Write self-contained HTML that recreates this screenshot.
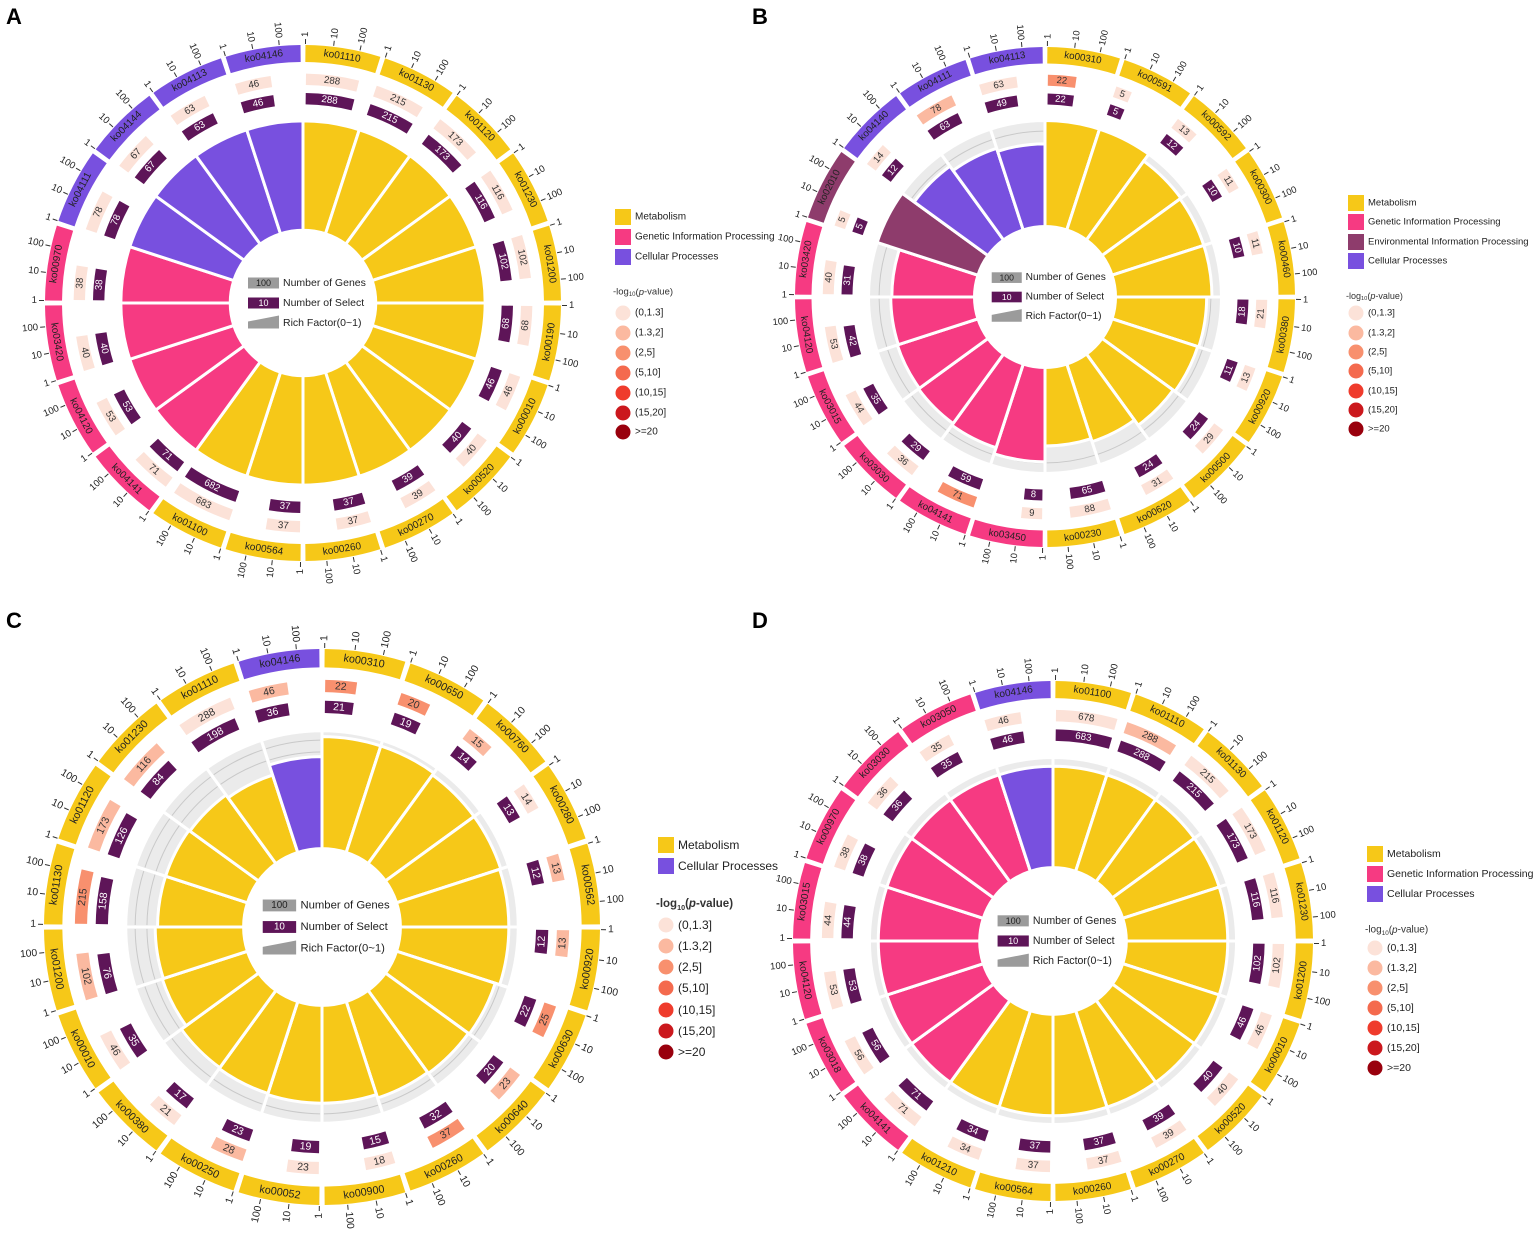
<!DOCTYPE html>
<html><head><meta charset="utf-8"><style>
html,body{margin:0;padding:0;background:#fff;}
svg{display:block;font-family:"Liberation Sans",Arial,sans-serif;}
</style></head><body>
<svg id="fig" width="1535" height="1234" viewBox="0 0 1535 1234">
<text x="6" y="24" font-size="22" font-weight="bold">A</text>
<text x="752" y="24" font-size="22" font-weight="bold">B</text>
<text x="6" y="628" font-size="22" font-weight="bold">C</text>
<text x="752" y="628" font-size="22" font-weight="bold">D</text>
</svg>
<script>
// ---- Panel A data ----
const catsA = ["ko01110","ko01130","ko01120","ko01230","ko01200","ko00190","ko00010","ko00520","ko00270","ko00260","ko00564","ko01100","ko04141","ko04120","ko03420","ko00970","ko04111","ko04144","ko04113","ko04146"];
const classA = ["M","M","M","M","M","M","M","M","M","M","M","M","G","G","G","G","C","C","C","C"];
const genesA = [288,215,173,116,102,68,46,40,39,37,37,683,71,53,40,38,78,67,63,46];
const selectA = [288,215,173,116,102,68,46,40,39,37,37,682,71,53,40,38,78,67,63,46];
const pclsA = [0,0,0,0,0,0,0,0,0,0,0,0,0,0,0,0,0,0,0,0];
const richA = [1,1,1,1,1,1,1,1,1,1,1,1,1,1,1,1,1,1,1,1];
// ---- Panel B data ----
const catsB = ["ko00310","ko00591","ko00592","ko00300","ko00460","ko00380","ko00920","ko00500","ko00620","ko00230","ko03450","ko04141","ko03030","ko03015","ko04120","ko03420","ko02010","ko04140","ko04111","ko04113"];
const classB = ["M","M","M","M","M","M","M","M","M","M","G","G","G","G","G","G","E","C","C","C"];
const genesB = [22,5,13,11,11,21,13,29,31,88,9,71,36,44,53,40,5,14,78,63];
const selectB = [22,5,12,10,10,18,11,24,24,65,8,59,29,35,42,31,5,12,63,49];
const pclsB = [2,0,0,0,0,0,0,0,0,0,0,2,0,0,0,0,0,0,1,0];
const richB = [1,1,0.92,0.91,0.91,0.86,0.85,0.83,0.77,0.74,0.89,0.83,0.81,0.8,0.79,0.78,1,0.86,0.81,0.78];
// ---- Panel C data ----
const catsC = ["ko00310","ko00650","ko00760","ko00280","ko00562","ko00920","ko00630","ko00640","ko00260","ko00900","ko00052","ko00250","ko00380","ko00010","ko01200","ko01130","ko01120","ko01230","ko01110","ko04146"];
const classC = ["M","M","M","M","M","M","M","M","M","M","M","M","M","M","M","M","M","M","M","C"];
const genesC = [22,20,15,14,13,13,25,23,37,18,23,28,21,46,102,215,173,116,288,46];
const selectC = [21,19,14,13,12,12,22,20,32,15,19,23,17,35,76,158,126,84,198,36];
const pclsC = [2,2,1,0,1,1,2,1,2,0,0,1,0,0,1,2,1,1,0,1];
const richC = [0.95,0.95,0.93,0.93,0.92,0.92,0.88,0.87,0.86,0.83,0.83,0.82,0.81,0.76,0.75,0.73,0.73,0.72,0.69,0.78];
// ---- Panel D data ----
const catsD = ["ko01100","ko01110","ko01130","ko01120","ko01230","ko01200","ko00010","ko00520","ko00270","ko00260","ko00564","ko01210","ko04141","ko03018","ko04120","ko03015","ko00970","ko03030","ko03050","ko04146"];
const classD = ["M","M","M","M","M","M","M","M","M","M","M","M","G","G","G","G","G","G","G","C"];
const genesD = [678,288,215,173,116,102,46,40,39,37,37,34,71,56,53,44,38,36,35,46];
const selectD = [683,288,215,173,116,102,46,40,39,37,37,34,71,56,53,44,38,36,35,46];
const pclsD = [0,1,0,0,0,0,0,0,0,0,0,0,0,0,0,0,0,0,0,0];
const richD = [0.92,0.92,0.92,0.92,0.92,0.92,0.92,0.92,0.92,0.92,0.92,0.92,0.92,0.92,0.92,0.92,0.92,0.92,0.92,0.92];
const pLabels = ["(0,1.3]","(1.3,2]","(2,5]","(5,10]","(10,15]","(15,20]",">=20"];

const NS = "http://www.w3.org/2000/svg";
const svg = document.getElementById("fig");
const CLS = {M:"#F6C818",G:"#F63A82",E:"#8E3C6C",C:"#7850DF"};
const CLSNAME = {M:"Metabolism",G:"Genetic Information Processing",E:"Environmental Information Processing",C:"Cellular Processes"};
const PCOL = ["#FCE2D8","#FBB9A0","#F8906E","#F46A4E","#EF3B2C","#CB181D","#99000D"];
const SEL = "#5E1558";

function mk(tag, attrs, parent){
  const e = document.createElementNS(NS, tag);
  for (const k in attrs) e.setAttribute(k, attrs[k]);
  (parent || svg).appendChild(e);
  return e;
}
function pt(cx,cy,r,a){const t=a*Math.PI/180;return [cx+r*Math.sin(t), cy-r*Math.cos(t)];}
function arc(cx,cy,r0,r1,a0,a1){
  const p1=pt(cx,cy,r1,a0),p2=pt(cx,cy,r1,a1),p3=pt(cx,cy,r0,a1),p4=pt(cx,cy,r0,a0);
  const L=(a1-a0)>180?1:0;
  return `M${p1[0]},${p1[1]}A${r1},${r1} 0 ${L} 1 ${p2[0]},${p2[1]}L${p3[0]},${p3[1]}A${r0},${r0} 0 ${L} 0 ${p4[0]},${p4[1]}Z`;
}
function tangRot(a){a=((a%360)+360)%360; return (a>90 && a<=270)? a-180 : a;}

function drawPanel(id, cx, cy, R, cats, cls, genes, sel, pcls, rich, greyLines){
  const g = mk("g", {});
  
  
  const n = cats.length, seg = 360/n, gap = 1.1;
  const rIn = R*0.934, rG = R*0.867, rS = R*0.792, rMax = R*0.706, r0 = R*0.282, bh = R*0.022;
  const fs = Math.round(R*0.039*10)/10;
  for (let i=0;i<n;i++){
    const a0 = i*seg + gap/2, a1 = (i+1)*seg - gap/2, span = a1-a0, mid=(a0+a1)/2;
    const ring = mk("path",{d:arc(cx,cy,rIn,R,a0,a1),fill:CLS[cls[i]]},g);
    
    
    const lp = pt(cx,cy,(R+rIn)/2,mid);
    const t = mk("text",{x:lp[0],y:lp[1],"font-size":fs,"text-anchor":"middle","dominant-baseline":"central",fill:"#222",transform:`rotate(${tangRot(mid)} ${lp[0]} ${lp[1]})`},g);
    t.textContent = cats[i];
    
    
    const tf=[0,0.37,0.72], tl=["1","10","100"];
    for (let k=0;k<3;k++){
      const ta = a0 + span*tf[k];
      const q1=pt(cx,cy,R+1,ta), q2=pt(cx,cy,R+6,ta), q3=pt(cx,cy,R+8,ta);
      const ln = mk("line",{x1:q1[0],y1:q1[1],x2:q2[0],y2:q2[1],stroke:"#333","stroke-width":1},g);
      
      
      const na = ((ta%360)+360)%360;
      const right = na < 180;
      const tt = mk("text",{x:q3[0],y:q3[1],"font-size":fs-0.5,"text-anchor":right?"start":"end","dominant-baseline":"central",fill:"#222",transform:`rotate(${right?na-90:na+90} ${q3[0]} ${q3[1]})`},g);
      tt.textContent = tl[k];
      
      
    }
    const gl = Math.min(1, Math.log10(genes[i]+1)/3.1) * span;
    const gb = mk("path",{d:arc(cx,cy,rG-bh,rG+bh,a0+0.2,a0+0.2+gl),fill:PCOL[pcls[i]]},g);
    
    
    const gm = a0+0.2+gl/2, gp = pt(cx,cy,rG,gm);
    const gt = mk("text",{x:gp[0],y:gp[1],"font-size":fs-0.3,"text-anchor":"middle","dominant-baseline":"central",fill:"#333",transform:`rotate(${tangRot(gm)} ${gp[0]} ${gp[1]})`},g);
    gt.textContent = genes[i];
    
    
    const sl = Math.min(1, Math.log10(sel[i]+1)/3.1) * span;
    const sb = mk("path",{d:arc(cx,cy,rS-bh,rS+bh,a0+0.2,a0+0.2+sl),fill:SEL},g);
    
    
    const sm = a0+0.2+sl/2, sp = pt(cx,cy,rS,sm);
    const st = mk("text",{x:sp[0],y:sp[1],"font-size":fs-0.3,"text-anchor":"middle","dominant-baseline":"central",fill:"#fff",transform:`rotate(${tangRot(sm)} ${sp[0]} ${sp[1]})`},g);
    st.textContent = sel[i];
    
    
    if (greyLines !== null){
      const bg = mk("path",{d:arc(cx,cy,r0,rMax,i*seg,(i+1)*seg),fill:"#EBEBEB",stroke:"#fff","stroke-width":3},g);
      
      
      for (const f of greyLines){
        const rr = r0 + (rMax-r0)*f;
        const b1=pt(cx,cy,rr,i*seg+0.6), b2=pt(cx,cy,rr,(i+1)*seg-0.6);
        const gl2 = mk("path",{d:`M${b1[0]},${b1[1]}A${rr},${rr} 0 0 1 ${b2[0]},${b2[1]}`,fill:"none",stroke:"#C9C9C9","stroke-width":1},g);
        
        
      }
    }
    const rb = r0 + (rMax-r0)*Math.min(1,rich[i]);
    const bar = mk("path",{d:arc(cx,cy,r0,rb,i*seg,(i+1)*seg),fill:CLS[cls[i]],stroke:"#fff","stroke-width":3},g);
    
    
  }
  const wc = mk("circle",{cx:cx,cy:cy,r:r0,fill:"#fff"},g);
  
  
  const s = R/258;
  const lx = cx-55*s, bw = 31*s, bhh = 11*s, tx = cx-20*s, lfs = 10.5*s;
  const rows = [[-20*s,"#9B9B9B","100","#222","Number of Genes"],[0,SEL,"10","#fff","Number of Select"]];
  rows.forEach((rw,k)=>{
    const r = mk("rect",{x:lx,y:cy+rw[0]-bhh/2,width:bw,height:bhh,fill:rw[1]},g);
    
    
    const t1 = mk("text",{x:lx+bw/2,y:cy+rw[0],"font-size":lfs-1.5,"text-anchor":"middle","dominant-baseline":"central",fill:rw[3]},g);
    t1.textContent = rw[2];
    
    
    const t2 = mk("text",{x:tx,y:cy+rw[0],"font-size":lfs,"dominant-baseline":"central",fill:"#222"},g);
    t2.textContent = rw[4];
    
    
  });
  const wy = cy+20*s;
  const wp = mk("polygon",{points:`${lx},${wy+bhh/2} ${lx+bw},${wy+bhh/2} ${lx+bw},${wy-bhh/2-2*s} ${lx},${wy-bhh/2+4*s}`,fill:"#9B9B9B"},g);
  
  
  const t3 = mk("text",{x:tx,y:wy,"font-size":lfs,"dominant-baseline":"central",fill:"#222"},g);
  t3.textContent = "Rich Factor(0~1)";
  
  
}

function drawLegend(id, x, catRows, classes, titleY, pRows, fsz, bold){
  const g = mk("g", {});
  
  
  classes.forEach((c,k)=>{
    const r = mk("rect",{x:x,y:catRows[k]-8,width:16,height:16,fill:CLS[c]},g);
    
    
    const t = mk("text",{x:x+20,y:catRows[k],"font-size":fsz,"dominant-baseline":"central",fill:"#222"},g);
    t.textContent = CLSNAME[c];
    
    
  });
  const tt = mk("text",{x:x-2,y:titleY,"font-size":fsz-0.5,"dominant-baseline":"central",fill:"#333","font-weight":bold?"bold":"normal"},g);
  tt.innerHTML = '-log<tspan font-size="'+(fsz*0.6)+'" dy="3">10</tspan><tspan dy="-3">(</tspan><tspan font-style="italic">p</tspan>-value)';
  
  
  pLabels.forEach((lab,k)=>{
    const c = mk("circle",{cx:x+8,cy:pRows[k],r:7.5,fill:PCOL[k]},g);
    
    
    const t = mk("text",{x:x+20,y:pRows[k],"font-size":fsz,"dominant-baseline":"central",fill:"#222"},g);
    t.textContent = lab;
    
    
  });
}

drawPanel("a",303,303,258,catsA,classA,genesA,selectA,pclsA,richA,null);
drawPanel("b",1045,297,250,catsB,classB,genesB,selectB,pclsB,richB,[0.9]);
drawPanel("c",322,927,278,catsC,classC,genesC,selectC,pclsC,richC,[0.82,0.92]);
drawPanel("d",1053,941,260,catsD,classD,genesD,selectD,pclsD,richD,[]);

drawLegend("a",615,[217,237,257],["M","G","C"],292,[313,333,353,373,393,413,432],10,false);
drawLegend("b",1348,[203,222,242,261],["M","G","E","C"],296,[313,333,352,371,391,410,429],9.5,false);
drawLegend("c",658,[845,866],["M","C"],904,[925,946,967,988,1010,1031,1052],12,true);
drawLegend("d",1367,[854,874,894],["M","G","C"],930,[948,968,988,1008,1028,1048,1068],10.5,false);
</script>
</body></html>
